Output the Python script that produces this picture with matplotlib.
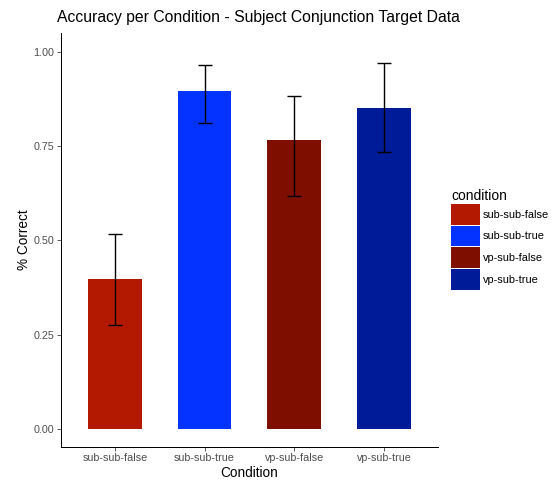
import matplotlib
matplotlib.use("Agg")
import matplotlib.pyplot as plt
from matplotlib.patches import Patch

conditions = ["sub-sub-false", "sub-sub-true", "vp-sub-false", "vp-sub-true"]
accuracy = [0.398, 0.896, 0.766, 0.853]
err_low = [0.276, 0.811, 0.618, 0.736]
err_high = [0.517, 0.966, 0.883, 0.971]
colours = ["#B31900", "#0433FF", "#7E0F00", "#001B98"]

DPI = 72
plt.rcParams["font.family"] = ["Liberation Sans", "DejaVu Sans"]
fig = plt.figure(figsize=(554 / DPI, 483 / DPI), dpi=DPI)
ax = fig.add_axes([61 / 554, 1 - 446.7 / 483, (437.7 - 61) / 554, (446.7 - 33) / 483])

x = list(range(1, len(conditions) + 1))
ax.bar(x, accuracy, width=0.6, color=colours, edgecolor="none", zorder=2)
yerr = [[a - lo for a, lo in zip(accuracy, err_low)],
        [hi - a for a, hi in zip(accuracy, err_high)]]
ax.errorbar(x, accuracy, yerr=yerr, fmt="none", ecolor="black",
            elinewidth=1.4, capsize=6.7, capthick=1.4, zorder=3)

TICK_FS = 10.8
ax.set_xlim(0.4, 4.6)
ax.set_ylim(-0.048, 1.051)
ax.set_xticks(x)
ax.set_xticklabels(conditions, fontsize=TICK_FS, color="#4D4D4D")
ax.set_yticks([0, 0.25, 0.5, 0.75, 1.0])
ax.set_yticklabels(["0.00", "0.25", "0.50", "0.75", "1.00"],
                   fontsize=TICK_FS, color="#4D4D4D")
ax.tick_params(length=4, width=0.8, color="#333333", pad=2.5)
for side in ["top", "right"]:
    ax.spines[side].set_visible(False)
for side in ["left", "bottom"]:
    ax.spines[side].set_linewidth(1.0)
    ax.spines[side].set_color("black")

ax.set_xlabel("Condition", fontsize=13.6, labelpad=2.5)
ax.set_ylabel("% Correct", fontsize=13.6, labelpad=3)
fig.text(57 / 554, 1 - 17.5 / 483, "Accuracy per Condition - Subject Conjunction Target Data",
         fontsize=15.8, ha="left", va="center")

# legend keys: matplotlib shrinks patch handles by a descent term, so
# handleheight is picked to give ~21 px tall squares
handles = [Patch(facecolor=c, edgecolor="none") for c in colours]
fs = 11.0
leg = fig.legend(handles, conditions, loc="upper left",
                 bbox_to_anchor=(451 / 554, 1 - 189 / 483),
                 frameon=False, fontsize=fs, title="condition",
                 title_fontsize=13.9, alignment="left",
                 handlelength=29 / fs, handleheight=2.52,
                 labelspacing=0.09, handletextpad=0.27,
                 borderpad=0, borderaxespad=0)

fig.savefig("out.png", dpi=DPI)
